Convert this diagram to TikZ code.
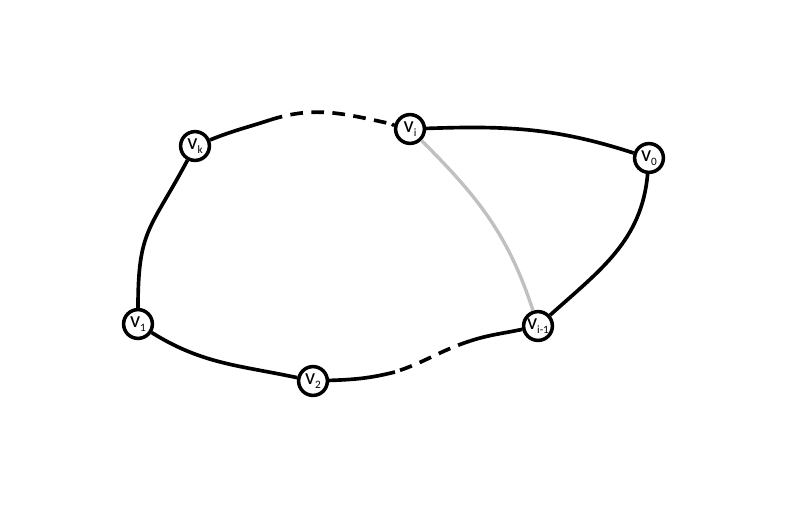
\documentclass[tikz,border=0pt]{standalone}
\usepackage{fontspec}
\setmainfont{Carlito}
\usepackage{tikz}
\usepackage{xcolor}
\newcommand{\vsub}[1]{v\raisebox{-0.35ex}{\fontsize{8}{9}\selectfont #1}}

\begin{document}
\begin{tikzpicture}[x=0.025cm,y=-0.025cm,
  vert/.style={circle,draw,line width=2.5pt,fill=white,minimum size=0.72cm,inner sep=0pt,font=\fontsize{16}{18}\selectfont},
  edge/.style={line width=2.6pt},
  gap/.style={line width=2.6pt,dash pattern=on 9pt off 6pt},
  chord/.style={line width=2.4pt,color=chordgray}]
\definecolor{chordgray}{RGB}{192,192,192}
\useasboundingbox (0,0) rectangle (800,507);

% Define waypoints where the dashed parts start and end
\coordinate (a) at (270,120);
\coordinate (b) at (392,124);
\coordinate (c) at (470,341);
\coordinate (d) at (395,372);

% Draw vertices
\node[vert] (vk) at (195,146) {\vsub{k}};
\node[vert] (vi) at (410,129) {\vsub{i}};
\node[vert] (v0) at (649,158) {\vsub{0}};
\node[vert] (v1) at (138,324) {\vsub{1}};
\node[vert] (v2) at (313,381) {\vsub{2}};
\node[vert] (vim) at (538,326) {\vsub{i-1}};

% Draw cycle
\draw[edge] (vk) to[out=22,in=198] (a);
\draw[gap] (a) to[out=18,in=168] (b);
\draw[edge] (b) to[out=-12,in=168] (vi);
\draw[edge] (vi) to[out=2,in=162] (v0);
\draw[edge] (v0) to[out=-95,in=42] (vim);
\draw[edge] (vim) to[out=192,in=18] (c);
\draw[gap] (c) to[out=198,in=18] (d);
\draw[edge] (d) to[out=194,in=2] (v2);
\draw[edge] (v2) to[out=168,in=-32] (v1);
\draw[edge] (v1) to[out=90,in=-118,looseness=1.3] (vk);

% Draw chord
\draw[chord] (vi) to[out=-45,in=108] (vim);
\end{tikzpicture}
\end{document}
